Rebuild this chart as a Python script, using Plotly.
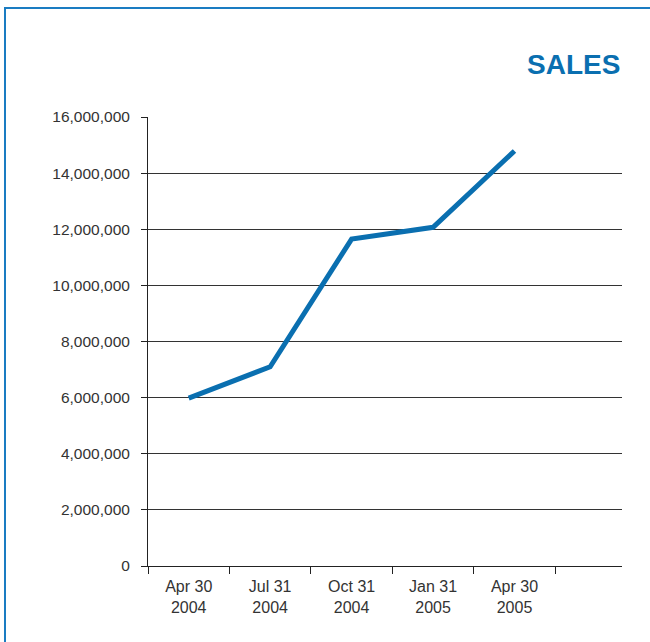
import plotly.graph_objects as go

# data
periods = ["Apr 30<br>2004", "Jul 31<br>2004", "Oct 31<br>2004", "Jan 31<br>2005", "Apr 30<br>2005"]
sales = [5980000, 7100000, 11650000, 12070000, 14790000]
y_ticks = [0, 2000000, 4000000, 6000000, 8000000, 10000000, 12000000, 14000000, 16000000]

BLUE = "#0a6fb0"
FONT = "Liberation Sans, Arial, sans-serif"

fig = go.Figure()
fig.add_trace(go.Scatter(
    x=periods, y=sales, mode="lines",
    line=dict(color=BLUE, width=5), showlegend=False,
))

fig.update_layout(
    width=650, height=642,
    margin=dict(l=148, r=28, t=117, b=76),
    paper_bgcolor="white", plot_bgcolor="white",
    font=dict(family=FONT, size=15.5, color="#333333"),
    xaxis=dict(
        type="category", range=[-0.5, 5.32],
        tickson="boundaries", ticks="outside", ticklen=7, tickcolor="#222",
        showgrid=False, showline=True, linecolor="#222", linewidth=1,
        zeroline=False, tickfont=dict(size=16, color="#333"),
        ticklabelstandoff=6,
    ),
    yaxis=dict(
        range=[0, 16000000], tickvals=y_ticks, tickformat=",d",
        ticks="outside", ticklen=6, tickcolor="#222",
        showgrid=True, gridcolor="#333", gridwidth=1,
        showline=True, linecolor="#222", linewidth=1,
        zeroline=False, tickfont=dict(size=15.5, color="#333"),
        ticklabelstandoff=8,
    ),
    # panel frame: only the left and top edges fall inside the window
    shapes=[dict(
        type="rect", xref="paper", yref="paper",
        x0=-0.3017, x1=1.6, y0=-0.6, y1=1.2428,
        line=dict(color="#1a7cc2", width=2), layer="below",
    )],
    annotations=[dict(
        text="<b>SALES</b>", xref="paper", yref="paper",
        x=1.0, y=1.1180, xanchor="right", yanchor="middle",
        showarrow=False, font=dict(family=FONT, size=28, color=BLUE),
    )],
)

# drop the default 8px page margin so the figure sits at the window's corner
fig.write_html(
    "out.html",
    config={"displayModeBar": False},
    post_script="document.body.style.margin='0';",
)
